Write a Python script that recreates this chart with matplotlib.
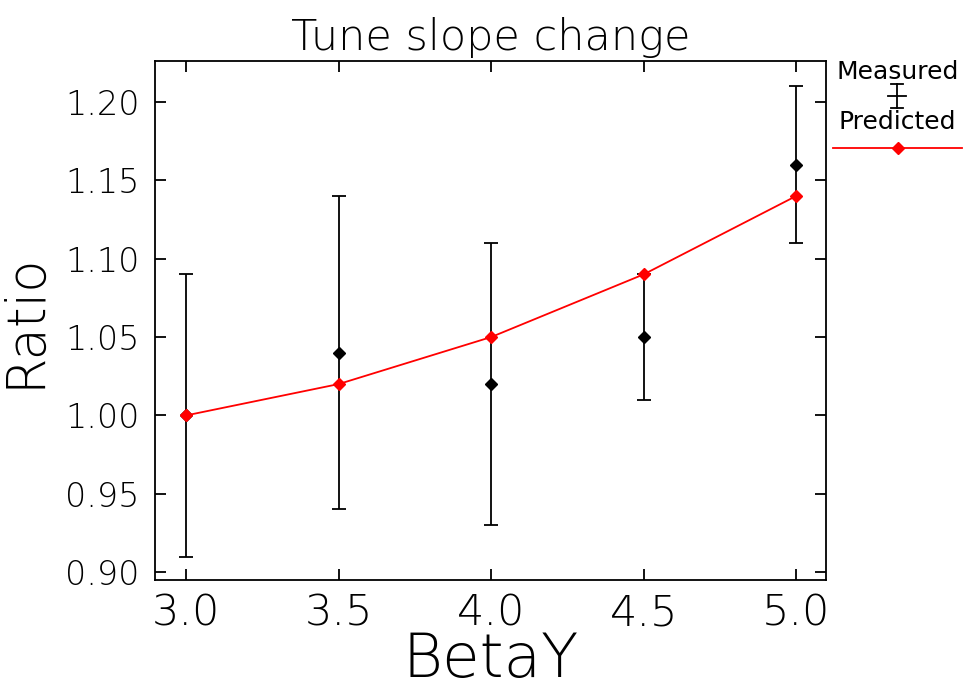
import matplotlib
matplotlib.use("Agg")
import matplotlib.pyplot as plt
from matplotlib.lines import Line2D

# data
beta_y = [3.0, 3.5, 4.0, 4.5, 5.0]
measured = [1.00, 1.04, 1.02, 1.05, 1.16]
measured_err = [0.09, 0.10, 0.09, 0.04, 0.05]
predicted = [1.00, 1.02, 1.05, 1.09, 1.14]
xticks = [3.0, 3.5, 4.0, 4.5, 5.0]
yticks = [0.90, 0.95, 1.00, 1.05, 1.10, 1.15, 1.20]

plt.rcParams['font.family'] = ['DejaVu Sans']
fig = plt.figure(figsize=(9.63, 6.91), dpi=100)
ax = fig.add_axes([0.161, 0.1606, 0.697, 0.751])

ax.errorbar(beta_y, measured, yerr=measured_err, fmt='D', color='black',
            ms=6, elinewidth=1.3, capsize=5, capthick=1.3, zorder=2)
ax.plot(beta_y, predicted, '-D', color='red', ms=6, lw=1.3, zorder=3)

ax.set_xlim(2.898, 5.098)
ax.set_ylim(0.895, 1.226)
ax.set_xticks(xticks)
ax.set_yticks(yticks)
ax.set_xticklabels(['%.1f' % v for v in xticks])
ax.set_yticklabels(['%.2f' % v for v in yticks])
ax.tick_params(direction='in', length=8, width=1.3, top=True, right=True)
ax.tick_params(axis='x', labelsize=31, pad=9)
ax.tick_params(axis='y', labelsize=24, pad=11)
for lab in ax.get_xticklabels() + ax.get_yticklabels():
    lab.set_fontweight('light')
for s in ax.spines.values():
    s.set_linewidth(1.3)

ax.set_xlabel('BetaY', fontsize=44, labelpad=-2, fontweight='light')
ax.set_ylabel('Ratio', fontsize=38, labelpad=10, fontweight='light')
ax.set_title('Tune slope change', fontsize=31, pad=8, fontweight='light')

# legend drawn to the right of the axes
fig.text(0.932, 0.896, 'Measured', ha='center', va='center', fontsize=18)
fig.text(0.932, 0.823, 'Predicted', ha='center', va='center', fontsize=18)
lx, ly, hh = 0.9315, 0.861, 0.0174
fig.add_artist(Line2D([lx, lx], [ly - hh, ly + hh], color='black', lw=1.3))
fig.add_artist(Line2D([lx - 0.0093, lx + 0.0093], [ly, ly], color='black', lw=1.3))
fig.add_artist(Line2D([lx - 0.0062, lx + 0.0062], [ly + hh, ly + hh], color='black', lw=1.3))
fig.add_artist(Line2D([lx - 0.0062, lx + 0.0062], [ly - hh, ly - hh], color='black', lw=1.3))
fig.add_artist(Line2D([0.865, 0.999], [0.786, 0.786], color='red', lw=1.3))
fig.add_artist(Line2D([0.9325], [0.786], color='red', marker='D', ms=6))

fig.savefig('out.png', dpi=100)
